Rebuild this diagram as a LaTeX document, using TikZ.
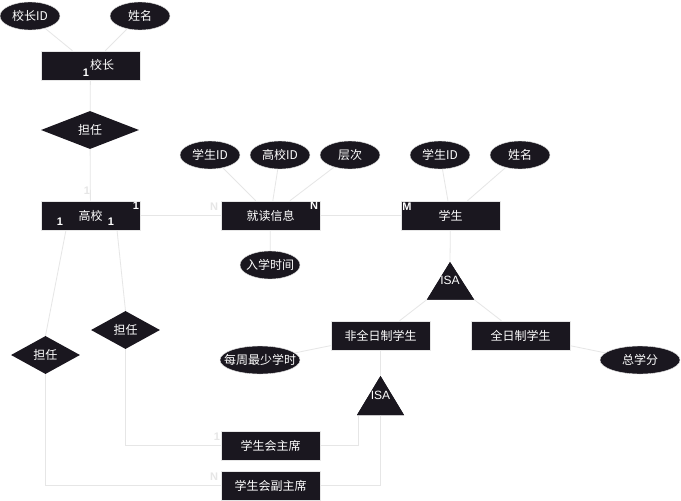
\documentclass[tikz,border=0pt]{standalone}
\usepackage{fontspec}
\setmainfont{Noto Sans CJK SC}
\newfontfamily\labfont{Liberation Sans}
\usetikzlibrary{shapes.geometric,calc}
\definecolor{boxfill}{HTML}{1A171F}
\definecolor{linec}{HTML}{E6E6E6}
\definecolor{faintc}{HTML}{E6E6E6}
\tikzset{
  ent/.style={draw=linec, line width=0.6pt, fill=boxfill, text=white, minimum width=99pt, minimum height=29pt, inner sep=0pt, font=\fontsize{12}{14}\selectfont},
  attr/.style={ellipse, draw=linec, line width=0.4pt, fill=boxfill, text=white, minimum width=60pt, minimum height=28pt, inner xsep=-8pt, inner ysep=0pt, font=\fontsize{12}{14}\selectfont},
  rel/.style={diamond, fill=boxfill, text=white, aspect=2.5, inner sep=0pt, minimum height=38pt, font=\fontsize{12}{14}\selectfont},
  tri/.style={fill=boxfill},
  txt/.style={text=white, inner sep=0pt, font=\fontsize{12}{14}\selectfont},
  isatxt/.style={text=white, inner sep=0pt, font=\labfont\fontsize{12}{14}\selectfont},
  conn/.style={draw=linec, line width=0.8pt},
  wlab/.style={text=white, inner sep=0pt, font=\labfont\bfseries\fontsize{11}{12}\selectfont},
  flab/.style={text=faintc, inner sep=0pt, font=\labfont\bfseries\fontsize{11}{12}\selectfont},
}
\begin{document}
\begin{tikzpicture}[x=1pt,y=-1pt]
\useasboundingbox[fill=white] (0,0) rectangle (681,501);
% entities
\node[ent] (xz) at (90.5,65.5) {};
\node[txt] (xzt) at (102,65) {校长};
\node[ent] (gx) at (90.5,215.5) {高校};
\node[ent] (jd) at (270.5,215.5) {就读信息};
\node[ent] (xs) at (450.5,215.5) {学生};
\node[ent] (fqr) at (380.5,335.5) {非全日制学生};
\node[ent] (qr) at (520.5,335.5) {全日制学生};
\node[ent] (zx) at (270.5,445.5) {学生会主席};
\node[ent] (fzx) at (270.5,485.5) {学生会副主席};
% attributes
\node[attr] (xzid) at (30,16) {校长ID};
\node[attr] (xzxm) at (140,16) {姓名};
\node[attr] (sid1) at (210,155) {学生ID};
\node[attr] (gxid) at (280,155) {高校ID};
\node[attr] (cc) at (350,155) {层次};
\node[attr] (sid2) at (440,155) {学生ID};
\node[attr] (xsxm) at (520,155) {姓名};
\node[attr] (rxsj) at (270,265) {入学时间};
\node[attr, minimum width=80pt] (mzxs) at (260,360) {每周最少学时};
\node[attr, minimum width=80pt] (zxf) at (640,360) {总学分};
% relations
\node[rel, minimum width=98pt] (dr1) at (90,130) {担任};
\node[rel, minimum width=69pt] (dr2) at (125.5,330) {担任};
\node[rel, minimum width=69pt] (dr3) at (45.5,355) {担任};
% ISA triangles
\coordinate (isa1top) at (450,262);
\coordinate (isa1bl) at (427,299.5);
\coordinate (isa1br) at (474,299.5);
\fill[tri] (isa1top) -- (isa1br) -- (isa1bl) -- cycle;
\node[isatxt] (isa1) at (450,280) {ISA};
\coordinate (isa2top) at (380.5,376);
\coordinate (isa2bl) at (357,415);
\coordinate (isa2b) at (358,415);
\coordinate (isa2bc) at (380.5,415);
\coordinate (isa2br) at (404,415);
\fill[tri] (isa2top) -- (isa2br) -- (isa2bl) -- cycle;
\node[isatxt] (isa2) at (380.5,395) {ISA};
% connector endpoints
\coordinate (gxb1) at (117,230);
\coordinate (gxb2) at (66,230);
% connectors
\draw[conn] (xzid) -- (xz);
\draw[conn] (xzxm) -- (xz);
\draw[conn] (xz) -- (dr1);
\draw[conn] (dr1) -- (gx);
\draw[conn] (gx) -- (jd);
\draw[conn] (jd) -- (xs);
\draw[conn] (sid1) -- (jd);
\draw[conn] (gxid) -- (jd);
\draw[conn] (cc) -- (jd);
\draw[conn] (rxsj) -- (jd);
\draw[conn] (sid2) -- (xs);
\draw[conn] (xsxm) -- (xs);
\draw[conn] (xs) -- (isa1top);
\draw[conn] (isa1bl) -- (fqr);
\draw[conn] (isa1br) -- (qr);
\draw[conn] (mzxs) -- (fqr);
\draw[conn] (qr) -- (zxf);
\draw[conn] (fqr) -- (isa2top);
\draw[conn] (zx.east) -| (isa2b);
\draw[conn] (fzx.east) -| (isa2bc);
\draw[conn] (gxb1) -- (dr2.north);
\draw[conn] (gxb2) -- (dr3.north);
\draw[conn] (dr2.south) |- (zx.west);
\draw[conn] (dr3.south) |- (fzx.west);
% redraw shapes over the connector ends
\node[ent] at (xz) {};
\node[txt] at (xzt) {校长};
\node[ent] at (gx) {高校};
\node[ent] at (jd) {就读信息};
\node[ent] at (xs) {学生};
\node[ent] at (fqr) {非全日制学生};
\node[ent] at (qr) {全日制学生};
\node[ent] at (zx) {学生会主席};
\node[ent] at (fzx) {学生会副主席};
\fill[tri] (isa1top) -- (isa1br) -- (isa1bl) -- cycle;
\node[isatxt] at (isa1) {ISA};
\fill[tri] (isa2top) -- (isa2br) -- (isa2bl) -- cycle;
\node[isatxt] at (isa2) {ISA};
% cardinality labels
\node[wlab] (l1) at (86,73) {1};
\node[flab] (l2) at (87,191) {1};
\node[wlab] (l3) at (60,222) {1};
\node[wlab] (l4) at (111,222) {1};
\node[wlab] (l5) at (136,206) {1};
\node[flab] (l6) at (214,207) {N};
\node[wlab] (l7) at (314,206) {N};
\node[wlab] (l8) at (407,207) {M};
\node[flab] (l9) at (217,437) {1};
\node[flab] (l10) at (214,477) {N};
\end{tikzpicture}
\end{document}
